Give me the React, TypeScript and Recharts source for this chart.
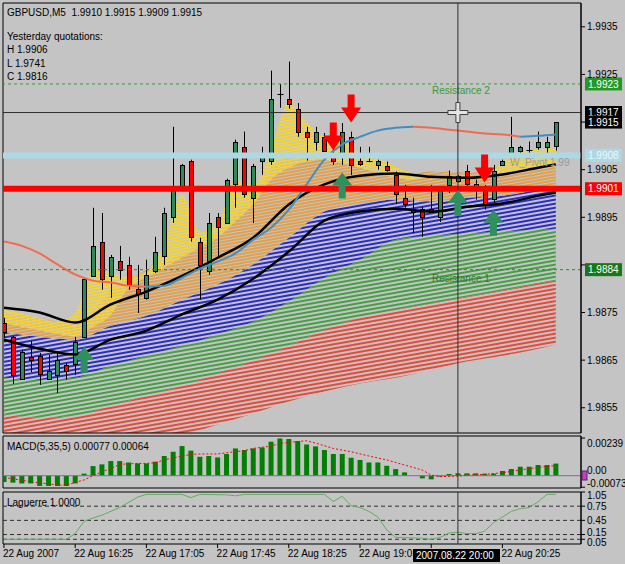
import React from "react";
import {
  ComposedChart,
  Bar,
  Line,
  Area,
  Scatter,
  XAxis,
  YAxis,
  ReferenceLine,
  ReferenceArea,
  ReferenceDot,
} from "recharts";

const FONT = "'Liberation Sans', Arial, sans-serif";
const BG = "#c4c4c4";
const X_DOMAIN: [number, number] = [-0.11, 64.83];
const PRICE_DOMAIN: [number, number] = [1.98497, 1.994];
const MACD_DOMAIN: [number, number] = [-0.00078, 0.00252];
const LAG_DOMAIN: [number, number] = [-0.05, 1.05];

// GBPUSD M5, bars 15:45 .. 20:55
const open = [
  1.98728, 1.98699, 1.98611, 1.98657, 1.98659, 1.98611, 1.98619, 1.9864, 1.98642, 1.98699,
  1.98827, 1.98899, 1.98827, 1.98859, 1.9885, 1.988, 1.98781, 1.98838, 1.98869, 1.98951,
  1.9901, 1.99069, 1.98899, 1.98838, 1.98951, 1.98938, 1.9902, 1.99098, 1.98991, 1.99069,
  1.99069, 1.99209, 1.99199, 1.99178, 1.9913, 1.99109, 1.99119, 1.99077, 1.99077, 1.99119,
  1.99069, 1.99069, 1.9906, 1.99058, 1.99039, 1.98991, 1.98968, 1.98968, 1.98968, 1.98951,
  1.99018, 1.99027, 1.99048, 1.9901, 1.9901, 1.98989, 1.9906, 1.99077, 1.9909, 1.99092,
  1.99098, 1.99098, 1.991,
];
const high = [
  1.98739, 1.98701, 1.98672, 1.98691, 1.98665, 1.98661, 1.98665, 1.98644, 1.98699, 1.98823,
  1.9897, 1.98959, 1.98871, 1.9889, 1.98867, 1.9885, 1.98861, 1.98909, 1.9897, 1.9914,
  1.99062, 1.99071, 1.98907, 1.98959, 1.98959, 1.99031, 1.99113, 1.9913, 1.99062, 1.99098,
  1.99258, 1.9923, 1.99277, 1.9919, 1.9914, 1.9914, 1.99127, 1.9909, 1.99148, 1.9913,
  1.99098, 1.99098, 1.99071, 1.99067, 1.99046, 1.99018, 1.98991, 1.98972, 1.99018, 1.9901,
  1.99048, 1.99039, 1.9906, 1.99029, 1.99018, 1.9906, 1.99071, 1.99161, 1.991, 1.99109,
  1.9913, 1.99119, 1.9915,
];
const low = [
  1.98697, 1.986, 1.98609, 1.98625, 1.98598, 1.98609, 1.98581, 1.98609, 1.98619, 1.98697,
  1.98825, 1.98798, 1.98781, 1.98819, 1.98798, 1.98749, 1.98777, 1.98833, 1.9885, 1.98938,
  1.99008, 1.98899, 1.98777, 1.98829, 1.98867, 1.98936, 1.9897, 1.98991, 1.98938, 1.99039,
  1.9906, 1.9918, 1.99178, 1.99119, 1.99069, 1.9909, 1.99088, 1.9906, 1.9906, 1.99039,
  1.99058, 1.99066, 1.9905, 1.99046, 1.98978, 1.9897, 1.98917, 1.98909, 1.98959, 1.9894,
  1.99001, 1.99023, 1.99012, 1.98987, 1.98966, 1.9898, 1.99058, 1.99075, 1.99075, 1.99075,
  1.99092, 1.99077, 1.9909,
];
const close = [
  1.9871, 1.98619, 1.98668, 1.98651, 1.98621, 1.98628, 1.98651, 1.98628, 1.98689, 1.98821,
  1.9889, 1.98821, 1.98867, 1.9884, 1.98808, 1.98789, 1.98829, 1.98878, 1.98959, 1.99008,
  1.9906, 1.98909, 1.9885, 1.98938, 1.9893, 1.99029, 1.99109, 1.98999, 1.99058, 1.99077,
  1.99199, 1.99207, 1.99188, 1.9913, 1.99119, 1.9913, 1.9909, 1.99069, 1.9913, 1.9906,
  1.99062, 1.99068, 1.99069, 1.9905, 1.98999, 1.98978, 1.98962, 1.98951, 1.98962, 1.99008,
  1.99037, 1.99037, 1.9902, 1.9902, 1.98978, 1.99048, 1.99069, 1.99098, 1.99098, 1.99093,
  1.99109, 1.99109, 1.9915,
];

const macdHist = [
  -0.0004, -0.00044, -0.00049, -0.00049, -0.00065, -0.00065, -0.00065, -0.00065, -0.00049, 0.00013,
  0.00061, 0.00072, 0.00093, 0.00093, 0.00084, 0.00078, 0.00078, 0.00089, 0.00125, 0.00152,
  0.00188, 0.00159, 0.0012, 0.00125, 0.00116, 0.00138, 0.00173, 0.00163, 0.00173, 0.00179,
  0.00216, 0.00236, 0.00233, 0.0022, 0.00198, 0.00186, 0.00163, 0.00138, 0.00138, 0.00114,
  0.001, 0.00084, 0.00084, 0.00063, 0.00042, 0.00021, 0.0, -0.00017, -0.00023, -0.00006,
  0.00011, 0.00015, 0.00015, 0.00015, 0.00013, 0.00013, 0.0003, 0.00042, 0.00057, 0.00057,
  0.00068, 0.00068, 0.00077,
];
const signalIdx = [
  0, 3, 6, 7, 9, 10, 11, 12, 13, 15, 16, 17, 18, 20, 21, 22, 24, 25, 27, 28,
  30, 31, 33, 34, 35, 37, 39, 41, 43, 45, 47, 48, 49, 51, 52, 54, 56, 58, 60, 62,
];
const signalVal = [
  -0.00011, -0.00038, -0.00059, -0.00059, -0.00027, 0.0, 0.00025, 0.00046, 0.00072, 0.00078,
  0.00078, 0.00082, 0.001, 0.00125, 0.00135, 0.00138, 0.00138, 0.00146, 0.00159, 0.00173,
  0.00188, 0.00205, 0.00217, 0.00222, 0.00207, 0.00173, 0.00152, 0.00125, 0.001, 0.00068,
  0.00036, 0.00004, -0.00006, -0.00002, 0.00004, 0.00008, 0.00019, 0.00036, 0.00053, 0.00064,
];

const lagIdx = [
  0, 7, 8, 9, 10, 11, 13, 15, 16, 20, 21, 22, 25, 26, 27, 36, 37, 38, 39, 40, 41,
  42, 43, 44, 47, 48, 49, 50, 51, 52, 53, 54, 55, 56, 57, 58, 59, 60, 61, 62,
];
const lagVal = [
  0.05, 0.05, 0.17, 0.43, 0.5, 0.56, 0.72, 0.94, 1.0, 1.0, 0.93, 1.0, 0.99, 0.97, 1.0, 1.0, 0.85, 0.96, 0.76, 0.72, 0.64,
  0.52, 0.25, 0.09, 0.07, 0.05, 0.09, 0.18, 0.2, 0.17, 0.17, 0.22, 0.4, 0.52, 0.64, 0.7, 0.72, 0.84, 1.0, 1.0,
];
const lagLevels = [0.75, 0.45, 0.15, 0.05];
const lagTicks = [1.05, 0.75, 0.45, 0.15, 0.05];

// moving average ribbons, read every 4 bars
const ribbonIdx = [0, 4, 8, 12, 16, 20, 24, 28, 32, 36, 40, 44, 48, 52, 56, 60, 62];
const ema1 = [1.9876, 1.9875, 1.98729, 1.98767, 1.98794, 1.98827, 1.98865, 1.98907, 1.98977, 1.99019, 1.99037, 1.99042, 1.99035, 1.99033, 1.9904, 1.99054, 1.99061];
const ema2 = [1.98693, 1.98674, 1.98662, 1.98693, 1.98712, 1.98746, 1.98777, 1.98821, 1.98878, 1.98943, 1.98962, 1.98968, 1.98962, 1.98972, 1.98979, 1.98995, 1.99002];
const orangeHigh = [1.9875, 1.98739, 1.98725, 1.98794, 1.9884, 1.98872, 1.9892, 1.98998, 1.99075, 1.99071, 1.99054, 1.99035, 1.99046, 1.99044, 1.99046, 1.99056, 1.99061];
const blueHigh = [1.98708, 1.98699, 1.98693, 1.98722, 1.98743, 1.98777, 1.98809, 1.98851, 1.98907, 1.98962, 1.98979, 1.98987, 1.98983, 1.98991, 1.98995, 1.99008, 1.99012];
const blueLow = [1.98613, 1.98609, 1.98613, 1.98638, 1.98659, 1.9868, 1.98704, 1.98731, 1.98773, 1.98823, 1.98861, 1.98903, 1.98911, 1.98916, 1.9892, 1.98924, 1.98926];
const greenLow = [1.98536, 1.98529, 1.98533, 1.98554, 1.98575, 1.98596, 1.98622, 1.98649, 1.9868, 1.98714, 1.98739, 1.98756, 1.98769, 1.98783, 1.98796, 1.98811, 1.98817];
const redLow = [1.98441, 1.98441, 1.98445, 1.98458, 1.98473, 1.98491, 1.98515, 1.98538, 1.98563, 1.98584, 1.98601, 1.98613, 1.9863, 1.98647, 1.98659, 1.98674, 1.98683];

// fast ribbon and the slow single MA, read every 2 bars
const fineIdx = [0, 2, 4, 6, 8, 10, 12, 14, 16, 18, 20, 22, 24, 26, 28, 30, 32, 34, 36, 38, 40, 42, 44, 46, 48, 50, 52, 54, 56, 58, 60, 62];
const yellowHigh = [1.98756, 1.98748, 1.98739, 1.98731, 1.9875, 1.9884, 1.98834, 1.98825, 1.98835, 1.98893, 1.98998, 1.9892, 1.98935, 1.99029, 1.99019, 1.99092, 1.99191, 1.99149, 1.99119, 1.99113, 1.99086, 1.99075, 1.99056, 1.9904, 1.99033, 1.99033, 1.9904, 1.99033, 1.99067, 1.99086, 1.99092, 1.99096];
const yellowLow = [1.98727, 1.9872, 1.98712, 1.98705, 1.987, 1.9872, 1.98745, 1.98802, 1.98823, 1.98844, 1.98865, 1.98886, 1.98907, 1.98941, 1.98977, 1.99029, 1.99054, 1.99067, 1.99071, 1.99065, 1.99054, 1.99046, 1.99033, 1.99029, 1.99033, 1.9903, 1.99032, 1.9903, 1.99042, 1.9905, 1.99056, 1.99061];
const slowMa = [1.98899, 1.9889, 1.98874, 1.98851, 1.9883, 1.98817, 1.98813, 1.98806, 1.98804, 1.98806, 1.98823, 1.98842, 1.98857, 1.98874, 1.98903, 1.98928, 1.98966, 1.99019, 1.99071, 1.99103, 1.99119, 1.99132, 1.99138, 1.9914, 1.99138, 1.99134, 1.9913, 1.99126, 1.99124, 1.99119, 1.99121, 1.99124];
const slowMaFalling = [[0, 16], [46, 58]];

const arrowsDown = [
  { i: 37, p: 1.9909 },
  { i: 39, p: 1.99149 },
  { i: 54, p: 1.99023 },
];
const arrowsUp = [
  { i: 9, p: 1.98678 },
  { i: 38, p: 1.99044 },
  { i: 51, p: 1.99008 },
  { i: 55, p: 1.98966 },
];

const priceTicks = [1.9855, 1.9865, 1.9875, 1.9885, 1.9895, 1.9905, 1.9915, 1.9925, 1.9935];
// these two tick labels sit under the price tags
const hiddenPriceTicks = [1.9885, 1.9915];
const timeTickIdx = [0, 8, 16, 24, 32, 40, 48, 56];
const timeLabels = [
  "22 Aug 2007",
  "22 Aug 16:25",
  "22 Aug 17:05",
  "22 Aug 17:45",
  "22 Aug 18:25",
  "22 Aug 19:05",
  "",
  "22 Aug 20:25",
];
const cursorBar = 51;
const cursorPrice = 1.9917;

const candles = open.map((o, i) => ({
  i,
  o,
  h: high[i],
  l: low[i],
  c: close[i],
  range: [low[i], high[i]],
  macd: macdHist[i],
}));
const ribbonData = ribbonIdx.map((i, k) => ({
  i,
  red: [redLow[k], greenLow[k]],
  green: [greenLow[k], blueLow[k]],
  blue: [blueLow[k], blueHigh[k]],
  orange: [blueHigh[k], orangeHigh[k]],
  e1: ema1[k],
  e2: ema2[k],
}));
const isFalling = (i: number) => slowMaFalling.some(([a, b]) => i >= a && i <= b);
const isRising = (i: number) => !slowMaFalling.some(([a, b]) => i > a && i < b);
const fineData = fineIdx.map((i, k) => ({
  i,
  yellow: [yellowLow[k], yellowHigh[k]],
  dn: isFalling(i) ? slowMa[k] : null,
  up: isRising(i) ? slowMa[k] : null,
}));
const signalData = signalIdx.map((i, k) => ({ i, s: signalVal[k] }));
const lagData = lagIdx.map((i, k) => ({ i, v: lagVal[k] }));

const GREEN = "#2e8b57";
const RED = "#ff0000";

const Candle = (props: any) => {
  const { x, y, width, height, payload } = props;
  if (x == null || !payload) return null;
  const cx = Math.round(x + width / 2) + 0.5;
  const top = Math.min(y, y + height);
  const bot = Math.max(y, y + height);
  const { o, h, l, c } = payload;
  const py = (p: number) => top + ((h - p) / (h - l)) * (bot - top);
  const yo = py(o);
  const yc = py(c);
  const flat = Math.abs(c - o) < 0.00003;
  return (
    <g>
      <line x1={cx} x2={cx} y1={top} y2={bot} stroke="#000" />
      {flat ? (
        <line x1={cx - 3} x2={cx + 3} y1={Math.round(yo) + 0.5} y2={Math.round(yo) + 0.5} stroke="#000" />
      ) : (
        <rect
          x={cx - 2}
          y={Math.round(Math.min(yo, yc)) + 0.5}
          width={4}
          height={Math.max(Math.round(Math.abs(yc - yo)), 1)}
          fill={c > o ? GREEN : RED}
          stroke="#000"
        />
      )}
    </g>
  );
};

const ArrowDown = (p: any) => {
  const { cx, cy } = p;
  const pts = [
    [cx - 3.5, cy - 28],
    [cx + 3.5, cy - 28],
    [cx + 3.5, cy - 15],
    [cx + 10, cy - 15],
    [cx, cy],
    [cx - 10, cy - 15],
    [cx - 3.5, cy - 15],
  ];
  return <polygon points={pts.map((q) => q.join(",")).join(" ")} fill={RED} />;
};

const ArrowUp = (p: any) => {
  const { cx, cy } = p;
  const pts = [
    [cx - 3.5, cy + 26],
    [cx + 3.5, cy + 26],
    [cx + 3.5, cy + 13],
    [cx + 10, cy + 13],
    [cx, cy],
    [cx - 10, cy + 13],
    [cx - 3.5, cy + 13],
  ];
  return <polygon points={pts.map((q) => q.join(",")).join(" ")} fill="#2f8f5f" />;
};

const Cursor = (p: any) => {
  const { cx, cy } = p;
  const a = 10;
  const t = 2;
  const pts = [
    [cx - t, cy - a], [cx + t, cy - a], [cx + t, cy - t], [cx + a, cy - t],
    [cx + a, cy + t], [cx + t, cy + t], [cx + t, cy + a], [cx - t, cy + a],
    [cx - t, cy + t], [cx - a, cy + t], [cx - a, cy - t], [cx - t, cy - t],
  ];
  return <polygon points={pts.map((q) => q.join(",")).join(" ")} fill="#e4e4e4" stroke="#404040" />;
};

const tagEl = (vb: any, text: string, bg: string, fg: string) => {
  const x = vb.x + vb.width + 4;
  return (
    <g>
      <rect x={x} y={vb.y - 6.5} width={37} height={13} fill={bg} />
      <text x={x + 3} y={vb.y + 3.6} fill={fg} fontSize={10} fontFamily={FONT}>
        {text}
      </text>
    </g>
  );
};
const textEl = (vb: any, text: string, color: string, dx: number, dy: number) => (
  <text x={vb.x + dx} y={vb.y + dy} fill={color} fontSize={10} fontFamily={FONT}>
    {text}
  </text>
);

const label =
  (tag?: [string, string, string], note?: [string, string, number, number]) =>
  (props: any) => {
    const vb = props.viewBox;
    if (!vb) return null;
    return (
      <g>
        {note ? textEl(vb, note[0], note[1], note[2], note[3]) : null}
        {tag ? tagEl(vb, tag[0], tag[1], tag[2]) : null}
      </g>
    );
  };

const priceTick = (p: any) => {
  const v = Number(p.payload.value);
  if (hiddenPriceTicks.some((h) => Math.abs(h - v) < 1e-7)) return <g />;
  return (
    <text x={p.x} y={p.y} dy="0.355em" textAnchor="start" fontSize={10} fontFamily={FONT} fill="#000">
      {v.toFixed(4)}
    </text>
  );
};
const macdTick = (p: any) => {
  const v = p.payload.value;
  const dy = v > 0 ? 5 : v < 0 ? -3.5 : -5;
  return (
    <text x={p.x} y={p.y + dy} dy="0.355em" textAnchor="start" fontSize={10} fontFamily={FONT} fill="#000">
      {v === 0 ? "0.00" : v.toFixed(5)}
    </text>
  );
};
const lagTick = (p: any) => {
  const v = p.payload.value;
  const dy = v > 1 ? 3 : v < 0.1 ? 3.5 : v < 0.2 ? -2.5 : 0;
  return (
    <text x={p.x} y={p.y + dy} dy="0.355em" textAnchor="start" fontSize={10} fontFamily={FONT} fill="#000">
      {v.toFixed(2)}
    </text>
  );
};
const timeTick = (p: any) => {
  const k = timeTickIdx.indexOf(p.payload.value);
  if (!timeLabels[k]) return <g />;
  return (
    <text x={p.x - 1} y={p.y} dy="0.71em" textAnchor="start" fontSize={10} fontFamily={FONT} fill="#000">
      {timeLabels[k]}
    </text>
  );
};

const frame = (yd: [number, number]) => (
  <ReferenceArea
    x1={X_DOMAIN[0]}
    x2={X_DOMAIN[1]}
    y1={yd[0]}
    y2={yd[1]}
    fill="none"
    stroke="#000"
    ifOverflow="visible"
  />
);

export default function App() {
  return (
    <div
      style={{
        position: "absolute",
        left: 0,
        top: 0,
        width: 625,
        height: 564,
        background: BG,
        overflow: "hidden",
        fontFamily: FONT,
      }}
    >
      <div style={{ position: "absolute", left: 0, top: 0 }}>
        <ComposedChart width={625} height={436} data={candles} margin={{ top: 3, right: 0, bottom: 3, left: 3 }}>
          <defs>
            <pattern id="pY" width="8" height="3" patternUnits="userSpaceOnUse" patternTransform="rotate(-10)">
              <rect width="8" height="2" fill="#f5d533" />
            </pattern>
            <pattern id="pO" width="8" height="3" patternUnits="userSpaceOnUse" patternTransform="rotate(-10)">
              <rect width="8" height="2" fill="#e3a04c" />
            </pattern>
            <pattern id="pB" width="8" height="4" patternUnits="userSpaceOnUse" patternTransform="rotate(-10)">
              <rect width="8" height="2" fill="#2b2bcc" />
            </pattern>
            <pattern id="pG" width="8" height="4" patternUnits="userSpaceOnUse" patternTransform="rotate(-10)">
              <rect width="8" height="2" fill="#45a045" />
            </pattern>
            <pattern id="pR" width="8" height="4" patternUnits="userSpaceOnUse" patternTransform="rotate(-10)">
              <rect width="8" height="2" fill="#e84a3a" />
            </pattern>
          </defs>
          <XAxis dataKey="i" type="number" domain={X_DOMAIN} allowDataOverflow hide />
          <YAxis
            orientation="right"
            width={44}
            domain={PRICE_DOMAIN}
            allowDataOverflow
            ticks={priceTicks}
            interval={0}
            tick={priceTick}
            tickSize={4}
            axisLine={{ stroke: "#000" }}
            tickLine={{ stroke: "#000" }}
          />
          <Area data={ribbonData} dataKey="red" type="monotone" stroke="none" fill="url(#pR)" fillOpacity={1} isAnimationActive={false} />
          <Area data={ribbonData} dataKey="green" type="monotone" stroke="none" fill="url(#pG)" fillOpacity={1} isAnimationActive={false} />
          <Area data={ribbonData} dataKey="blue" type="monotone" stroke="none" fill="url(#pB)" fillOpacity={1} isAnimationActive={false} />
          <Area data={ribbonData} dataKey="orange" type="monotone" stroke="none" fill="url(#pO)" fillOpacity={1} isAnimationActive={false} />
          <Area data={fineData} dataKey="yellow" type="monotone" stroke="none" fill="url(#pY)" fillOpacity={1} isAnimationActive={false} />
          <Line data={ribbonData} dataKey="e1" type="monotone" stroke="#000" strokeWidth={2.5} dot={false} isAnimationActive={false} />
          <Line data={ribbonData} dataKey="e2" type="monotone" stroke="#000" strokeWidth={2.5} dot={false} isAnimationActive={false} />
          <Line data={fineData} dataKey="dn" type="monotone" stroke="#f26a4f" strokeWidth={2} dot={false} isAnimationActive={false} />
          <Line data={fineData} dataKey="up" type="monotone" stroke="#3f8fc4" strokeWidth={2} dot={false} isAnimationActive={false} />

          <ReferenceLine y={1.9908} stroke="#add8e6" strokeWidth={6} label={label(["1.9908", "#add8e6", "#eef8fb"], ["W_Pivot 1.99", "#9a9a9a", 507, 11])} />
          <ReferenceLine y={1.9901} stroke="#ff0000" strokeWidth={6} label={label(["1.9901", "#ff0000", "#ffffff"])} />
          <ReferenceLine y={1.9923} stroke="#3a9a3a" strokeDasharray="3 3" label={label(["1.9923", "#229922", "#ffffff"], ["Resistance 2", "#3a9a3a", 429, 10])} />
          <ReferenceLine y={1.9884} stroke="#2e8b2e" strokeDasharray="3 3" label={label(["1.9884", "#157a15", "#ffffff"], ["Resistance 1", "#2e7d2e", 429, 12])} />
          <ReferenceLine y={cursorPrice} stroke="#303030" label={label(["1.9917", "#000000", "#ffffff"])} />
          <ReferenceLine y={1.9915} stroke="none" strokeOpacity={0} label={label(["1.9915", "#000000", "#ffffff"])} />
          <ReferenceLine x={cursorBar} stroke="#303030" />

          <Bar dataKey="range" barSize={7} shape={Candle} isAnimationActive={false} />
          <Scatter data={arrowsDown} dataKey="p" shape={(p: any) => <ArrowDown {...p} />} isAnimationActive={false} />
          <Scatter data={arrowsUp} dataKey="p" shape={(p: any) => <ArrowUp {...p} />} isAnimationActive={false} />
          <ReferenceDot x={cursorBar} y={cursorPrice} r={1} shape={(p: any) => <Cursor {...p} />} />
          {frame(PRICE_DOMAIN)}
        </ComposedChart>
      </div>

      <div style={{ position: "absolute", left: 0, top: 434 }}>
        <ComposedChart width={625} height={56} data={candles} margin={{ top: 2, right: 0, bottom: 2, left: 3 }}>
          <XAxis dataKey="i" type="number" domain={X_DOMAIN} allowDataOverflow hide />
          <YAxis
            orientation="right"
            width={44}
            domain={MACD_DOMAIN}
            allowDataOverflow
            ticks={[0.00239, 0, -0.00073]}
            interval={0}
            tick={macdTick}
            tickSize={4}
            axisLine={{ stroke: "#000" }}
            tickLine={{ stroke: "#000" }}
          />
          <ReferenceLine y={0} stroke="#8a5cc8" />
          <Bar dataKey="macd" barSize={5} fill="#008000" isAnimationActive={false} />
          <Line data={signalData} dataKey="s" stroke="#ff0000" strokeDasharray="2 2" dot={false} isAnimationActive={false} />
          <ReferenceLine x={cursorBar} stroke="#303030" />
          {frame(MACD_DOMAIN)}
        </ComposedChart>
      </div>

      <div style={{ position: "absolute", left: 0, top: 490 }}>
        <ComposedChart width={625} height={74} margin={{ top: 2, right: 0, bottom: 0, left: 3 }}>
          <XAxis
            dataKey="i"
            type="number"
            domain={X_DOMAIN}
            allowDataOverflow
            ticks={timeTickIdx}
            interval={0}
            height={20}
            tick={timeTick}
            tickSize={4}
            axisLine={false}
            tickLine={{ stroke: "#000" }}
          />
          <YAxis
            orientation="right"
            width={44}
            domain={LAG_DOMAIN}
            allowDataOverflow
            ticks={lagTicks}
            interval={0}
            tick={lagTick}
            tickSize={4}
            axisLine={{ stroke: "#000" }}
            tickLine={{ stroke: "#000" }}
          />
          {lagLevels.map((v) => (
            <ReferenceLine key={v} y={v} stroke="#303030" strokeDasharray="4 3" />
          ))}
          <Line data={lagData} dataKey="v" stroke="#5fae5f" dot={false} isAnimationActive={false} />
          <ReferenceLine x={cursorBar} stroke="#303030" />
          {frame(LAG_DOMAIN)}
        </ComposedChart>
      </div>

      <svg
        width={625}
        height={564}
        style={{ position: "absolute", left: 0, top: 0, pointerEvents: "none" }}
        fontFamily={FONT}
        fontSize={10}
      >
        <text x={7} y={16} fill="#000" style={{ whiteSpace: "pre" }}>
          GBPUSD,M5  1.9910 1.9915 1.9909 1.9915
        </text>
        <text x={7} y={40} fill="#000">Yesterday quotations:</text>
        <text x={7} y={53} fill="#000">H 1.9906</text>
        <text x={7} y={67} fill="#000">L 1.9741</text>
        <text x={7} y={80} fill="#000">C 1.9816</text>
        <text x={7} y={450} fill="#000">MACD(5,35,5) 0.00077 0.00064</text>
        <text x={7} y={506} fill="#000">Laguerre 1.0000</text>
        <rect x={582} y={471} width={5} height={9} fill="#c040c0" stroke="#602060" />
        <rect x={413} y={549} width={87} height={13} fill="#000" />
        <text x={416} y={559} fill="#fff">2007.08.22 20:00</text>
      </svg>
    </div>
  );
}
